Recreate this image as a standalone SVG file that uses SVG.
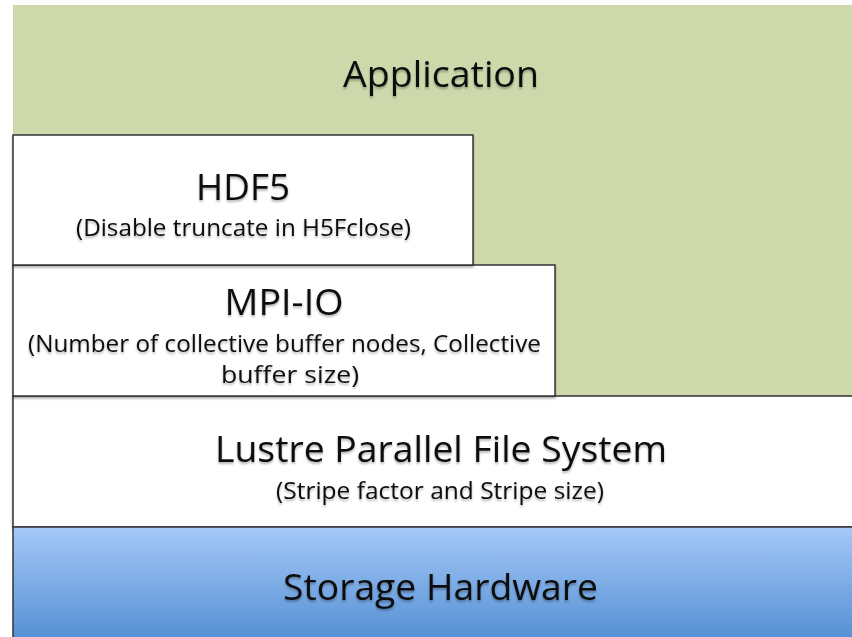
<svg xmlns="http://www.w3.org/2000/svg" width="852" height="637" viewBox="0 0 852 637">
<defs>
<linearGradient id="blue" x1="0" y1="0" x2="0" y2="1">
<stop offset="0" stop-color="#a5c8f8"/>
<stop offset="1" stop-color="#538fd3"/>
</linearGradient>
<filter id="sh" x="-5%" y="-10%" width="110%" height="130%">
<feGaussianBlur in="SourceAlpha" stdDeviation="1.2"/>
<feOffset dx="0" dy="1.5" result="b"/>
<feComponentTransfer><feFuncA type="linear" slope="0.3"/></feComponentTransfer>
<feMerge><feMergeNode/><feMergeNode in="SourceGraphic"/></feMerge>
</filter>
</defs>
<style>
.box{fill:#ffffff;stroke:#333333;stroke-width:1.5}
text{font-family:"Open Sans","Noto Sans","Liberation Sans",sans-serif;fill:#111111;text-anchor:middle}
.big{font-size:36px}
.small{font-size:23px}
</style>
<rect width="852" height="637" fill="#ffffff"/>
<g id="application">
<rect x="13" y="5" width="839" height="391" fill="#cdd9ab"/>
<text class="big" x="441" y="87" textLength="196" lengthAdjust="spacingAndGlyphs" filter="url(#sh)">Application</text>
</g>
<g id="lustre">
<rect class="box" x="13" y="396" width="845" height="131" filter="url(#sh)"/>
<text class="big" x="441" y="462" textLength="452" lengthAdjust="spacingAndGlyphs" filter="url(#sh)">Lustre Parallel File System</text>
<text class="small" x="440" y="499" textLength="328" lengthAdjust="spacingAndGlyphs" filter="url(#sh)">(Stripe factor and Stripe size)</text>
</g>
<g id="mpiio">
<rect class="box" x="13" y="265" width="542" height="131" filter="url(#sh)"/>
<text class="big" x="284" y="315" textLength="119" lengthAdjust="spacingAndGlyphs" filter="url(#sh)">MPI-IO</text>
<text class="small" x="284.5" y="352" textLength="513" lengthAdjust="spacingAndGlyphs" filter="url(#sh)">(Number of collective buffer nodes, Collective</text>
<text class="small" x="290" y="383" textLength="138" lengthAdjust="spacingAndGlyphs" filter="url(#sh)">buffer size)</text>
</g>
<g id="hdf5">
<rect class="box" x="13" y="135" width="460" height="130" filter="url(#sh)"/>
<text class="big" x="243" y="200" textLength="94" lengthAdjust="spacingAndGlyphs" filter="url(#sh)">HDF5</text>
<text class="small" x="243.5" y="236" textLength="335" lengthAdjust="spacingAndGlyphs" filter="url(#sh)">(Disable truncate in H5Fclose)</text>
</g>
<g id="storage">
<rect x="13" y="527" width="845" height="115" fill="url(#blue)" stroke="#333333" stroke-width="1.5"/>
<text class="big" x="440.5" y="600" textLength="315" lengthAdjust="spacingAndGlyphs" filter="url(#sh)">Storage Hardware</text>
</g>
<g id="connectors"/>
</svg>
